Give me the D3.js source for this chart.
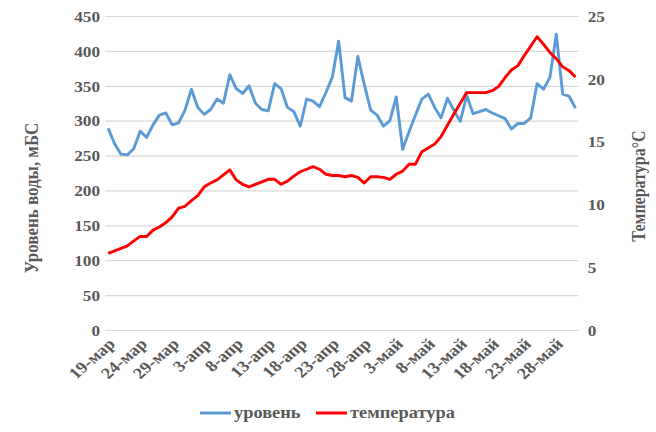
<!DOCTYPE html>
<html>
<head>
<meta charset="utf-8">
<script src="https://cdn.jsdelivr.net/npm/d3@7"></script>
<style>
  body { margin: 0; background: #fff; }
  svg text { font-family: "Liberation Serif", "Times New Roman", serif; fill: #595959; }
</style>
</head>
<body>
<svg id="chart" width="656" height="432"></svg>
<script>
// categories: one point per day, 19 Mar .. 31 May
const startDay = new Date(2020, 2, 19)
const dayCount = 74
const monthNames = ["янв", "фев", "мар", "апр", "май", "июн"]

// water level, mBS (left axis)
const level = [
  289, 267, 252, 251, 260, 285, 276, 294, 308, 311,
  294, 297, 315, 345, 319, 309, 316, 331, 325, 366,
  346, 339, 350, 325, 316, 314, 353, 346, 319, 313,
  292, 331, 328, 320, 340, 362, 414, 333, 328, 392,
  352, 315, 308, 292, 300, 334, 259, 284, 308, 331,
  338, 319, 304, 332, 315, 299, 336, 310, 313, 316,
  311, 307, 303, 288, 296, 296, 304, 353, 345, 362,
  424, 338, 335, 318
]

// temperature, °C (right axis)
const temperature = [
  6.1, 6.3, 6.5, 6.7, 7.1, 7.45, 7.45, 7.95, 8.2, 8.55,
  9.0, 9.7, 9.85, 10.3, 10.7, 11.4, 11.7, 11.95, 12.35, 12.75,
  11.95, 11.6, 11.4, 11.6, 11.8, 12.0, 12.0, 11.6, 11.85, 12.25,
  12.6, 12.8, 13.0, 12.8, 12.4, 12.3, 12.3, 12.2, 12.3, 12.15,
  11.7, 12.2, 12.2, 12.15, 12.0, 12.4, 12.65, 13.2, 13.2, 14.2,
  14.5, 14.8, 15.4, 16.3, 17.2, 18.05, 18.9, 18.9, 18.9, 18.9,
  19.05, 19.4, 20.1, 20.7, 21.05, 21.85, 22.6, 23.35, 22.75, 22.1,
  21.6, 20.95, 20.65, 20.15
]

const levelTicks = [0, 50, 100, 150, 200, 250, 300, 350, 400, 450]
const tempTicks = [0, 5, 10, 15, 20, 25]
const labelEvery = 5
const seriesNames = ["уровень", "температура"]

const blue = "#5B9BD5"
const red = "#FF0000"
const sx = 1.15   // the picture is a bit wider than tall, text is stretched too

const days = d3.timeDay.range(startDay, d3.timeDay.offset(startDay, dayCount))
const fmtDay = d => d.getDate() + "-" + monthNames[d.getMonth()]

const plot = { left: 105, right: 578.7, top: 16, bottom: 330 }

const svg = d3.select("#chart")

const x = d3.scalePoint()
  .domain(d3.range(dayCount))
  .range([plot.left, plot.right])
  .padding(0.5)

const yL = d3.scaleLinear().domain([0, 450]).range([plot.bottom, plot.top])
const yR = d3.scaleLinear().domain([0, 25]).range([plot.bottom, plot.top])

//gridlines + left tick labels
const leftAxis = svg.append("g")
  .attr("transform", `translate(${plot.left},0)`)
  .call(d3.axisLeft(yL).tickValues(levelTicks).tickSize(-(plot.right - plot.left)).tickPadding(0))

leftAxis.select(".domain").remove()
leftAxis.selectAll(".tick line").attr("stroke", "#d9d9d9").attr("stroke-width", 1.2)
leftAxis.selectAll(".tick text")
  .attr("x", null).attr("dy", "0.35em")
  .attr("transform", `translate(-5,0) scale(${sx},1)`)
  .style("font-size", "15px").style("font-weight", "bold")

//right tick labels
const rightAxis = svg.append("g")
  .attr("transform", `translate(${plot.right},0)`)
  .call(d3.axisRight(yR).tickValues(tempTicks).tickSize(0).tickPadding(0))

rightAxis.select(".domain").remove()
rightAxis.selectAll(".tick text")
  .attr("x", null).attr("dy", "0.35em")
  .attr("transform", `translate(9,0) scale(${sx},1)`)
  .style("font-size", "15px").style("font-weight", "bold")

//x axis labels, rotated
svg.append("g")
  .selectAll("text")
  .data(d3.range(0, dayCount, labelEvery))
  .join("text")
  .attr("transform", i => `translate(${x(i) + 8},345) scale(${sx},1) rotate(-45)`)
  .attr("text-anchor", "end")
  .style("font-size", "16px").style("font-weight", "bold")
  .text(i => fmtDay(days[i]))

//lines
const levelLine = d3.line().x((d, i) => x(i)).y(d => yL(d))
const tempLine = d3.line().x((d, i) => x(i)).y(d => yR(d))

svg.append("path")
  .datum(level)
  .attr("fill", "none")
  .attr("stroke", blue)
  .attr("stroke-width", 2.9)
  .attr("stroke-linejoin", "round")
  .attr("d", levelLine)

svg.append("path")
  .datum(temperature)
  .attr("fill", "none")
  .attr("stroke", red)
  .attr("stroke-width", 2.9)
  .attr("stroke-linejoin", "round")
  .attr("d", tempLine)

//axis titles
svg.append("text")
  .attr("transform", `translate(38,198) scale(${sx},1) rotate(-90)`)
  .attr("text-anchor", "middle")
  .style("font-size", "17px").style("font-weight", "bold")
  .text("Уровень воды, мБС")

svg.append("text")
  .attr("transform", `translate(645,186) scale(${sx},1) rotate(-90)`)
  .attr("text-anchor", "middle")
  .style("font-size", "16px").style("font-weight", "bold")
  .text("Температура°С")

//legend
const legendItems = [
  { name: seriesNames[0], color: blue, x: 200 },
  { name: seriesNames[1], color: red, x: 316 }
]

const legend = svg.append("g")
  .selectAll("g")
  .data(legendItems)
  .join("g")
  .attr("transform", d => `translate(${d.x},413)`)

legend.append("line")
  .attr("x1", 0).attr("x2", 31)
  .attr("stroke", d => d.color)
  .attr("stroke-width", 3)

legend.append("text")
  .attr("transform", `translate(34,4.5) scale(${sx},1)`)
  .style("font-size", "16px").style("font-weight", "bold")
  .text(d => d.name)
</script>
</body>
</html>
